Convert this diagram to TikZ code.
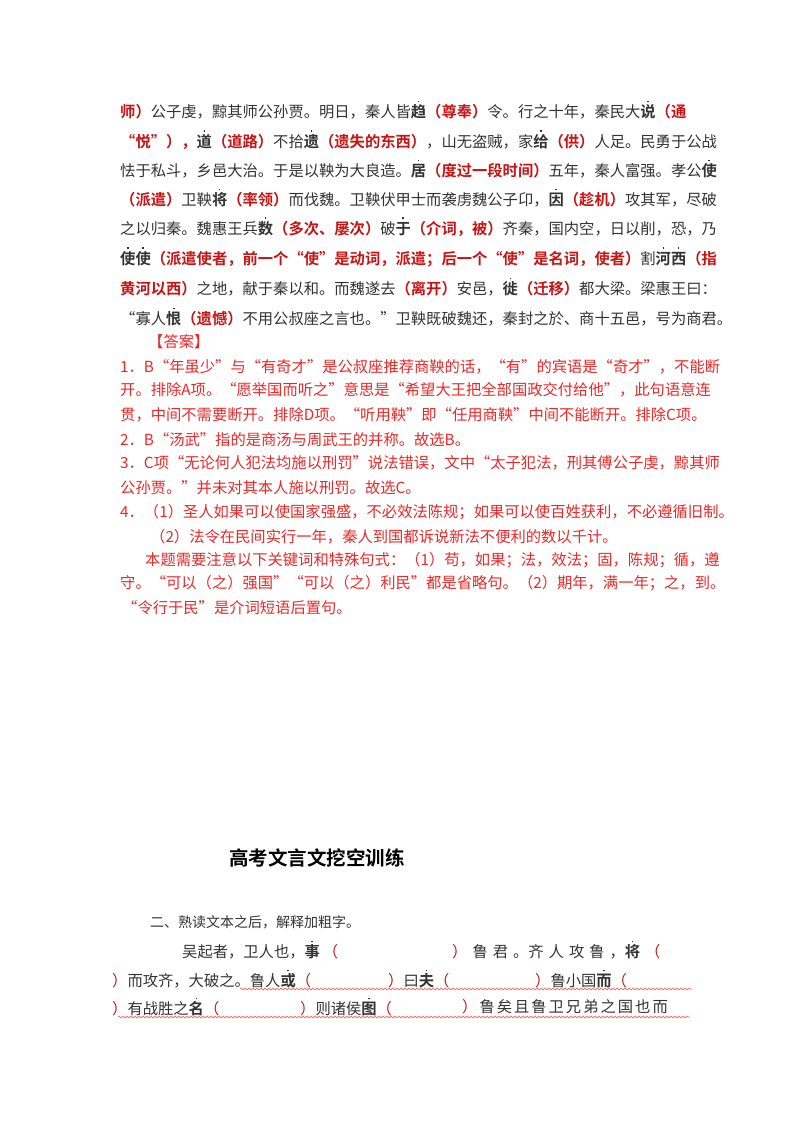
\documentclass[tikz,border=0pt]{standalone}
\usepackage{fontspec}
\setmainfont{Noto Sans CJK SC}[BoldFont={Noto Sans CJK SC Bold}]
\usetikzlibrary{decorations.pathmorphing}
\definecolor{dr}{RGB}{200,20,20}
\definecolor{ar}{RGB}{235,40,40}
\newcommand\zd[1]{\textbf{#1}\llap{\makebox[1em]{\raisebox{1.0em}{\rule{1.6pt}{1.6pt}}}}}
\newcommand\hx[1]{\textcolor{dr}{\textbf{#1}}}
\newcommand\gp{\hspace{5pt}}
\begin{document}
\begin{tikzpicture}[x=1pt,y=-1pt,
  ln/.style={anchor=west,inner sep=0pt,font=\fontsize{15.3}{16}\selectfont,text=black!80},
  an/.style={anchor=west,inner sep=0pt,font=\fontsize{15.3}{16}\selectfont,text=ar},
  wav/.style={draw=red!70,decorate,decoration={snake,amplitude=1pt,segment length=4pt},line width=0.5pt}]
\useasboundingbox[fill=white] (0,0) rectangle (800,1132);
\node[ln] (l1) at (120,110) {\hx{师）}公子虔，黥其师公孙贾。明日，秦人皆\zd{趋}\hx{（尊奉）}令。行之十年，秦民大\zd{说}\hx{（通}};
\node[ln] (l2) at (120,140) {\hx{“悦”），}\zd{道}\hx{（道路）}不拾\zd{遗}\hx{（遗失的东西）}，山无盗贼，家\zd{给}\hx{（供）}人足。民勇于公战};
\node[ln] (l3) at (120,169) {怯于私斗，乡邑大治。于是以鞅为大良造。\zd{居}\hx{（度过一段时间）}五年，秦人富强。孝公\zd{使}};
\node[ln] (l4) at (120,198) {\hx{（派遣）}卫鞅\zd{将}\hx{（率领）}而伐魏。卫鞅伏甲士而袭虏魏公子卬，\zd{因}\hx{（趁机）}攻其军，尽破};
\node[ln] (l5) at (120,227) {之以归秦。魏惠王兵\zd{数}\hx{（多次、屡次）}破\zd{于}\hx{（介词，被）}齐秦，国内空，日以削，恐，乃};
\node[ln] (l6) at (120,257) {\zd{使}\zd{使}\hx{（派遣使者，前一个“使”是动词，派遣；后一个“使”是名词，使者）}割\zd{河}\zd{西}\hx{（指}};
\node[ln] (l7) at (120,287) {\hx{黄河以西）}之地，献于秦以和。而魏遂去\hx{（离开）}安邑，\zd{徙}\hx{（迁移）}都大梁。梁惠王曰：};
\node[ln] (l8) at (120,317) {“寡人\zd{恨}\hx{（遗憾）}不用公叔座之言也。”卫鞅既破魏还，秦封之於、商十五邑，号为商君。};
\node[an] (a0) at (148,342) {【答案】};
\node[an] (a1) at (120,367) {1．B“年虽少”与“有奇才”是公叔座推荐商鞅的话，“有”的宾语是“奇才”，不能断};
\node[an] (a2) at (120,390) {开。排除A项。“愿举国而听之”意思是“希望大王把全部国政交付给他”，此句语意连};
\node[an] (a3) at (120,415) {贯，中间不需要断开。排除D项。“听用鞅”即“任用商鞅”中间不能断开。排除C项。};
\node[an] (a4) at (120,440) {2．B“汤武”指的是商汤与周武王的并称。故选B。};
\node[an] (a5) at (120,463) {3．C项“无论何人犯法均施以刑罚”说法错误，文中“太子犯法，刑其傅公子虔，黥其师};
\node[an] (a6) at (120,488) {公孙贾。”并未对其本人施以刑罚。故选C。};
\node[an] (a7) at (120,512) {4．（1）圣人如果可以使国家强盛，不必效法陈规；如果可以使百姓获利，不必遵循旧制。};
\node[an] (a8) at (150,537) {（2）法令在民间实行一年，秦人到国都诉说新法不便利的数以千计。};
\node[an] (a9) at (145,560) {本题需要注意以下关键词和特殊句式：（1）苟，如果；法，效法；固，陈规；循，遵};
\node[an] (a10) at (120,583) {守。“可以（之）强国”“可以（之）利民”都是省略句。（2）期年，满一年；之，到。};
\node[an] (a11) at (122,608) {“令行于民”是介词短语后置句。};
\node[anchor=center,inner sep=0pt,font=\fontsize{19.5}{20}\selectfont\bfseries] (t) at (317,858) {高考文言文挖空训练};
\node[ln,font=\fontsize{14}{15}\selectfont] (q) at (150,922) {二、熟读文本之后，解释加粗字。};
\node[ln] (b1a) at (182,950) {吴起者，卫人也，\zd{事}\hspace{3pt}\textcolor{dr}{（}};
\node[ln] (b1b) at (452,950) {\textcolor{dr}{）}\gp 鲁\gp 君\gp 。齐\gp 人\gp 攻\gp 鲁\gp ，\zd{将}\gp\textcolor{dr}{（}};
\node[ln] (b2a) at (112,979) {\textcolor{dr}{）}而攻齐，大破之。鲁人\zd{或}\textcolor{dr}{（}};
\node[ln] (b2b) at (388,979) {\textcolor{dr}{）}曰\zd{夫}\textcolor{dr}{（}};
\node[ln] (b2c) at (535,979) {\textcolor{dr}{）}鲁小国\zd{而}\textcolor{dr}{（}};
\node[ln] (b3a) at (112,1007) {\textcolor{dr}{）}有战胜之\zd{名}\textcolor{dr}{（}};
\node[ln] (b3b) at (300,1007) {\textcolor{dr}{）}则诸侯\zd{图}\textcolor{dr}{（}};
\node[ln] (b3c) at (462,1007) {\textcolor{dr}{）}\hspace{2pt}鲁\hspace{2pt}矣\hspace{2pt}且\hspace{2pt}鲁\hspace{2pt}卫\hspace{2pt}兄\hspace{2pt}弟\hspace{2pt}之\hspace{2pt}国\hspace{2pt}也\hspace{2pt}而};
\coordinate (w1s) at (240,989); \coordinate (w1e) at (692,989);
\coordinate (w2s) at (118,1017); \coordinate (w2e) at (690,1017);
\draw[wav] (w1s) -- (w1e);
\draw[wav] (w2s) -- (w2e);
\end{tikzpicture}
\end{document}
